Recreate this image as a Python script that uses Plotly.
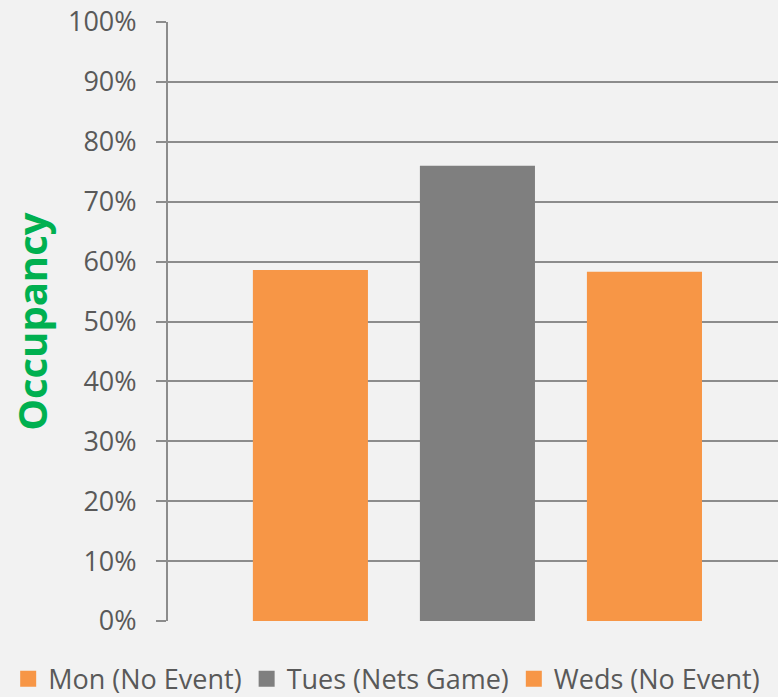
import plotly.graph_objects as go

series = ["Mon (No Event)", "Tues (Nets Game)", "Weds (No Event)"]
values = [0.586, 0.760, 0.583]
colors = ["#F79646", "#7F7F7F", "#F79646"]
y_ticks = [0, 0.1, 0.2, 0.3, 0.4, 0.5, 0.6, 0.7, 0.8, 0.9, 1.0]

FONT = "Open Sans"
TXT = "#595959"

fig = go.Figure()
for name, v, c in zip(series, values, colors):
    fig.add_trace(go.Bar(x=[""], y=[v], name=name, showlegend=False,
                         marker=dict(color=c, line=dict(width=0))))
# legend entries with larger square keys
for name, c in zip(series, colors):
    fig.add_trace(go.Scatter(x=[None], y=[None], name=name, mode="markers",
                             marker=dict(symbol="square", size=16, color=c, line=dict(width=0))))

fig.update_layout(
    width=778, height=697,
    margin=dict(l=168, r=0, t=22, b=76, autoexpand=False),
    paper_bgcolor="#F2F2F2", plot_bgcolor="#F2F2F2",
    barmode="group", bargap=0.192, bargroupgap=0.311,
    font=dict(family=FONT, color=TXT, size=27),
    showlegend=True,
    legend=dict(orientation="h", xref="paper", yref="paper", x=-0.262, xanchor="left",
                y=-0.138, yanchor="bottom", font=dict(size=27, color=TXT),
                itemwidth=30, tracegroupgap=0, bgcolor="rgba(0,0,0,0)", borderwidth=0),
    xaxis=dict(type="category", range=[-0.499, 0.4847], showticklabels=False, showgrid=False,
               zeroline=False, showline=False, ticks=""),
    yaxis=dict(range=[0, 1.0], tickvals=y_ticks, tickformat=".0%", showgrid=True,
               gridcolor="#8C8C8C", gridwidth=1.6, zeroline=False,
               showline=True, linecolor="#8C8C8C", linewidth=2,
               ticks="outside", ticklen=10, tickcolor="#8C8C8C", tickwidth=1.6,
               ticklabelstandoff=14, tickfont=dict(size=27, color=TXT)),
)
fig.add_annotation(text="<b>Occupancy</b>", xref="paper", yref="paper", x=-0.224, y=0.5,
                   textangle=-90, showarrow=False, font=dict(size=40, color="#00B050", family=FONT),
                   xanchor="center", yanchor="middle")
fig.write_html("out.html", config={"displayModeBar": False},
               post_script="document.body.style.margin='0';")
